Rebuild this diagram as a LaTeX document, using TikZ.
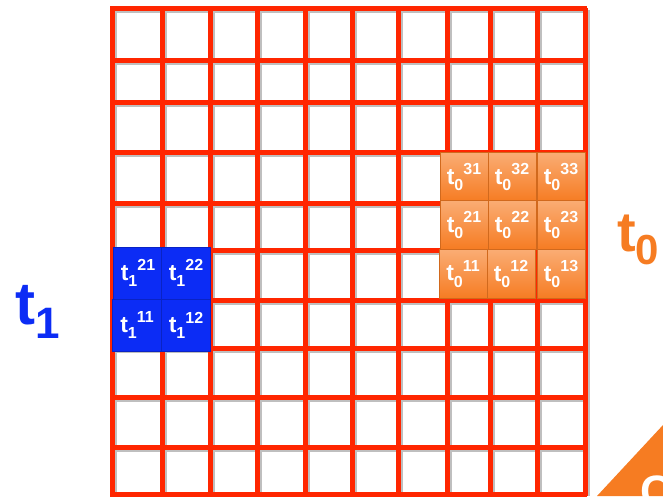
\documentclass[tikz,border=0pt]{standalone}
\usepackage{fontspec}
\setmainfont{Liberation Sans}
\usepackage{tikz}
\usetikzlibrary{shadings, positioning}
\usepackage{xcolor}

\definecolor{gridred}{RGB}{255,38,0}
\definecolor{tileblue}{RGB}{12,44,245}
\definecolor{tileorange}{RGB}{246,124,34}
\definecolor{tilelight}{RGB}{250,172,116}

\newcommand{\tlab}[2]{t\raisebox{-.5ex}{\fontsize{16}{16}\selectfont#1}\raisebox{.75ex}{\fontsize{16}{16}\selectfont#2}}

\tikzset{
  gridline/.style={gridred, line width=5pt},
  gridshadow/.style={black!25, line width=6pt},
  otile/.style={rectangle, minimum width=48pt, minimum height=49pt, inner sep=0pt,
    top color=tilelight, bottom color=tileorange, draw=tileorange!85!black, line width=.6pt,
    text=white, font=\bfseries\fontsize{23}{23}\selectfont},
  btile/.style={rectangle, minimum width=49pt, minimum height=52pt, inner sep=0pt,
    fill=tileblue, draw=tileblue!80!black, line width=.6pt,
    text=white, font=\bfseries\fontsize{23}{23}\selectfont},
}

\begin{document}
\begin{tikzpicture}[x=1pt, y=-1pt]
  \useasboundingbox (0,0) rectangle (663,496);

  % grid (shadow first)
  \foreach \gx in {112,162,210,257,305,352,398,447,490,537,585}
    \draw[gridshadow] (\gx+2,10) -- (\gx+2,496);
  \foreach \gy in {8,60,102,152,203,250,300,348,397,447,494}
    \draw[gridshadow] (114,\gy+2) -- (587,\gy+2);
  \foreach \gx in {112,162,210,257,305,352,398,447,490,537,585}
    \draw[gridline] (\gx,8) -- (\gx,496);
  \foreach \gy in {8,60,102,152,203,250,300,348,397,447,494}
    \draw[gridline] (110,\gy) -- (587,\gy);

  % orange block t0
  \node[otile] (o31) at (464,177) {\tlab{0}{31}};
  \node[otile] (o32) at (512,177) {\tlab{0}{32}};
  \node[otile] (o33) at (561,177) {\tlab{0}{33}};
  \node[otile] (o21) at (464,225) {\tlab{0}{21}};
  \node[otile] (o22) at (512,225) {\tlab{0}{22}};
  \node[otile] (o23) at (561,225) {\tlab{0}{23}};
  \node[otile] (o11) at (463,274) {\tlab{0}{11}};
  \node[otile] (o12) at (511,274) {\tlab{0}{12}};
  \node[otile] (o13) at (561,274) {\tlab{0}{13}};

  % blue block t1
  \node[btile] (b21) at (138,273) {\tlab{1}{21}};
  \node[btile] (b22) at (186,273) {\tlab{1}{22}};
  \node[btile] (b11) at (137,325) {\tlab{1}{11}};
  \node[btile] (b12) at (186,325) {\tlab{1}{12}};

  % big labels
  \node[text=tileorange, font=\bfseries\fontsize{56}{56}\selectfont, inner sep=0pt]
    (tzero) at (638,240) {t\raisebox{-.45ex}{\fontsize{42}{42}\selectfont 0}};
  \node[text=tileblue, font=\bfseries\fontsize{60}{60}\selectfont, inner sep=0pt]
    (tone) at (38,312) {t\raisebox{-.45ex}{\fontsize{44}{44}\selectfont 1}};

  % corner logo
  \fill[tileorange] (597,496) -- (663,425) -- (663,496) -- cycle;
  \node[text=white, font=\bfseries\fontsize{44}{44}\selectfont, inner sep=0pt, anchor=north west]
    (logo) at (640,476) {C};
\end{tikzpicture}
\end{document}
